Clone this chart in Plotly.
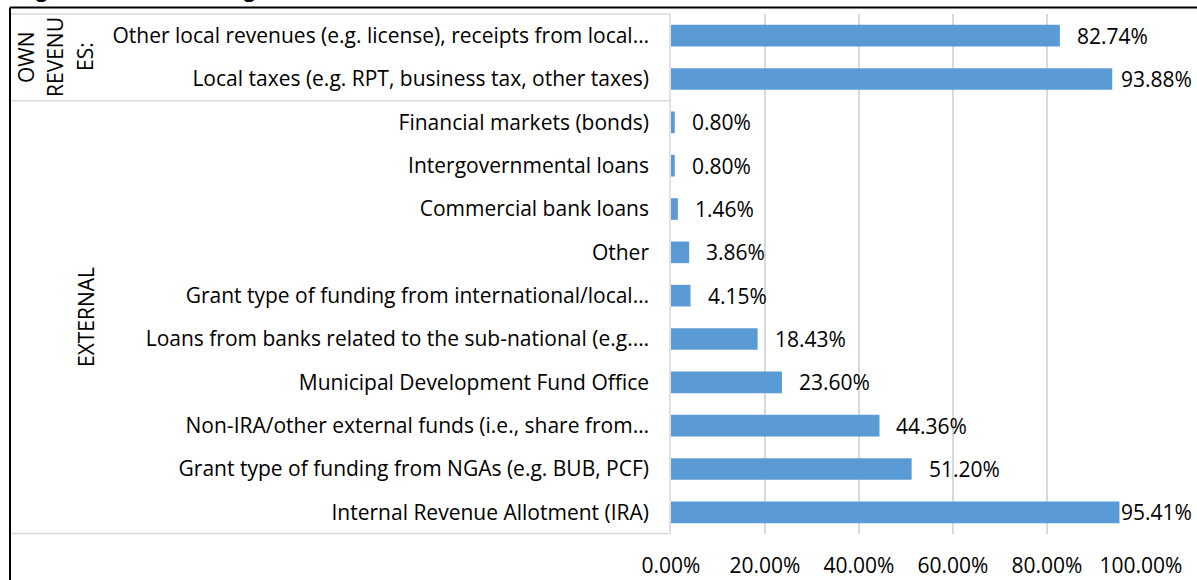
import plotly.graph_objects as go

categories = [
    "Other local revenues (e.g. license), receipts from local…",
    "Local taxes (e.g. RPT, business tax, other taxes)",
    "Financial markets (bonds)",
    "Intergovernmental loans",
    "Commercial bank loans",
    "Other",
    "Grant type of funding from international/local…",
    "Loans from banks related to the sub-national (e.g.…",
    "Municipal Development Fund Office",
    "Non-IRA/other external funds (i.e., share from…",
    "Grant type of funding from NGAs (e.g. BUB, PCF)",
    "Internal Revenue Allotment (IRA)",
]
shares = [0.8274, 0.9388, 0.0080, 0.0080, 0.0146, 0.0386, 0.0415,
          0.1843, 0.2360, 0.4436, 0.5120, 0.9541]
groups = ["OWN REVENUES:", "EXTERNAL"]
group_sizes = [2, 10]
x_ticks = [0, 0.2, 0.4, 0.6, 0.8, 1.0]
title_text = "Figure 12. Local funding"

W, H = 1197, 580
# plot area in pixels
X0, X1, Y0, Y1 = 671, 1141, 14, 534
FONT = "'Open Sans', sans-serif"
FSIZE = 21
GRID = "#d9d9d9"
BLUE = "#5b9bd5"


def px_x(p):
    return (p - X0) / (X1 - X0)


def px_y(p):
    return (Y1 - p) / (Y1 - Y0)


fig = go.Figure(go.Bar(
    x=shares,
    y=categories,
    orientation="h",
    marker=dict(color=BLUE, line=dict(width=0)),
    hoverinfo="x+y",
))

# data labels, pushed back when they would run past the right edge
annotations = []
for cat, v in zip(categories, shares):
    bar_end = X0 + v * (X1 - X0)
    left = min(bar_end + 15, 1188 - 69)
    annotations.append(dict(
        x=v, y=cat, xref="x", yref="y", text=f"{v * 100:.2f}%",
        showarrow=False, xanchor="left", yanchor="middle", xshift=left - bar_end,
        font=dict(size=FSIZE, color="#000", family=FONT),
    ))

# group labels on the left
own_lines = ["OWN", "REVENU", "ES:"]
for line, cx in zip(own_lines, [26, 55, 85]):
    annotations.append(dict(
        x=px_x(cx), y=px_y(57), xref="paper", yref="paper", text=line,
        textangle=-90, showarrow=False, xanchor="center", yanchor="middle",
        font=dict(size=FSIZE, color="#000", family=FONT),
    ))
annotations.append(dict(
    x=px_x(86), y=px_y(317), xref="paper", yref="paper", text=groups[1],
    textangle=-90, showarrow=False, xanchor="center", yanchor="middle",
    font=dict(size=FSIZE, color="#000", family=FONT),
))

# title, mostly cropped off the top
annotations.append(dict(
    x=px_x(17), y=1, xref="paper", yref="paper", text=f"<b>{title_text}</b>",
    xanchor="left", yanchor="bottom", yshift=9, showarrow=False,
    font=dict(size=20, color="#000", family=FONT),
))

shapes = []
# outer black frame
shapes.append(dict(type="line", xref="paper", yref="paper",
                   x0=px_x(10), x1=px_x(W + 5), y0=px_y(7.5), y1=px_y(7.5),
                   line=dict(color="#000", width=2)))
shapes.append(dict(type="line", xref="paper", yref="paper",
                   x0=px_x(10), x1=px_x(10), y0=px_y(7.5), y1=px_y(H + 5),
                   line=dict(color="#000", width=2)))
# category box lines
split = Y0 + group_sizes[0] / sum(group_sizes) * (Y1 - Y0)
for yy in [Y0, split, Y1 - 0.5]:
    shapes.append(dict(type="line", xref="paper", yref="paper",
                       x0=px_x(11), x1=px_x(X0), y0=px_y(yy), y1=px_y(yy),
                       line=dict(color=GRID, width=1.5)))
shapes.append(dict(type="line", xref="paper", yref="paper",
                   x0=px_x(X0 - 1), x1=px_x(X0 - 1), y0=px_y(Y0), y1=px_y(Y1),
                   line=dict(color=GRID, width=1.5)))

fig.update_layout(
    width=W, height=H,
    margin=dict(l=X0, r=W - X1, t=Y0, b=H - Y1, autoexpand=False),
    paper_bgcolor="white", plot_bgcolor="white",
    bargap=0.5,
    showlegend=False,
    font=dict(family=FONT, size=FSIZE, color="#000"),
    annotations=annotations,
    shapes=shapes,
)
fig.update_xaxes(
    range=[0, 1], tickvals=x_ticks, tickformat=".2%",
    showgrid=True, gridcolor=GRID, gridwidth=1.5,
    zeroline=False, showline=False, ticks="",
    ticklabelstandoff=17,
    tickfont=dict(size=FSIZE, color="#000", family=FONT),
)
fig.update_yaxes(
    autorange="reversed", showgrid=False, zeroline=False, showline=False,
    ticks="", ticklabelstandoff=21,
    tickfont=dict(size=FSIZE, color="#000", family=FONT),
)

fig.write_html("out.html", config={"displayModeBar": False},
               post_script="document.body.style.margin='0';")
